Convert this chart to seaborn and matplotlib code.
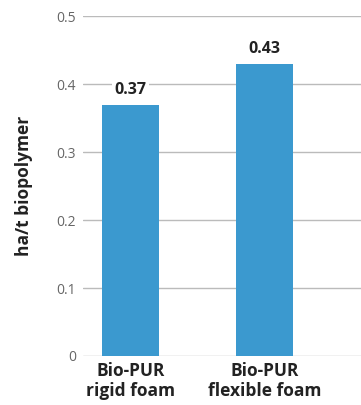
import matplotlib
matplotlib.use("Agg")
import matplotlib.pyplot as plt
import seaborn as sns
import pandas as pd

categories = ["Bio-PUR\nrigid foam", "Bio-PUR\nflexible foam"]
values = [0.37, 0.43]
value_labels = ["0.37", "0.43"]
yticks = [0, 0.1, 0.2, 0.3, 0.4, 0.5]
ytick_labels = ["0", "0.1", "0.2", "0.3", "0.4", "0.5"]

sns.set_style("white")
plt.rcParams['font.family'] = ['Open Sans', 'DejaVu Sans']

df = pd.DataFrame({"cat": categories, "val": values})

fig = plt.figure(figsize=(3.61, 4.05), dpi=100)
ax = fig.add_axes([0.23, 0.121, 0.77, 0.839])

sns.barplot(data=df, x="cat", y="val", color="#3b99cf", saturation=1,
            width=0.425, ax=ax, zorder=3, linewidth=0)

ax.set_ylim(0, 0.5)
ax.set_xlim(-0.354, 1.72)
ax.set_yticks(yticks)
ax.set_yticklabels(ytick_labels, color="#666666", fontsize=10)
ax.tick_params(axis="y", length=0, pad=5)
ax.tick_params(axis="x", length=0, pad=4)
for lbl in ax.get_xticklabels():
    lbl.set_fontweight("bold")
    lbl.set_fontsize(12.5)
    lbl.set_color("#222222")
    lbl.set_linespacing(1.15)

ax.grid(axis="y", color="#bbbbbb", linewidth=1, zorder=0)
for s in ax.spines.values():
    s.set_visible(False)

ax.set_xlabel("")
ax.set_ylabel("ha/t biopolymer", fontsize=12.5, fontweight="bold", color="#222222", labelpad=17)

for i, (v, t) in enumerate(zip(values, value_labels)):
    ax.annotate(t, (i, v), xytext=(0, 5), textcoords="offset points",
                ha="center", va="bottom", fontsize=11.5, fontweight="bold", color="#222222",
                bbox=dict(boxstyle="square,pad=0.15", fc="white", ec="none"), zorder=4)

fig.savefig("out.png", dpi=100)
